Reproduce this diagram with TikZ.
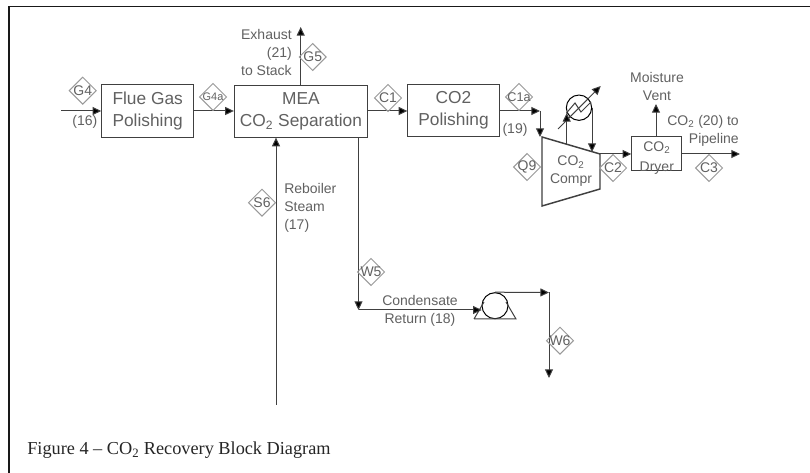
\documentclass[tikz,border=0pt]{standalone}
\usepackage{fontspec}
\setmainfont{Liberation Serif}
\newfontfamily\diagfont{Liberation Sans}
\usetikzlibrary{arrows.meta,shapes.geometric}
\newcommand{\tagtxt}[1]{\makebox[0pt][c]{#1}}
\tikzset{
  x=0.75pt,y=-0.75pt,
  ln/.style={draw=black!75,line width=0.75pt},
  arr/.style={ln,-{Triangle[length=6.5pt,width=6pt,fill=black]}},
  blockbox/.style={draw=black!75,line width=0.75pt,inner sep=0pt,align=center,font=\diagfont\fontsize{13}{16.5}\selectfont,text=black!62},
  tag/.style={diamond,draw=black!40,line width=0.75pt,minimum width=20.5pt,minimum height=20.5pt,inner sep=0pt,font=\diagfont\fontsize{10.5}{11}\selectfont,text=black!62},
  lbl/.style={inner sep=0pt,align=center,font=\diagfont\fontsize{10.5}{13.5}\selectfont,text=black!62},
}
\begin{document}
\begin{tikzpicture}
\useasboundingbox (0,0) rectangle (810,473);
\fill[white] (0,0) rectangle (810,473);
\draw[line width=1.3pt,black!90] (9,473) -- (9,6.5) -- (810,6.5);
% blocks
\node[blockbox,minimum width=69pt,minimum height=39.5pt] (flue) at (147.7,110.7) {Flue Gas\\Polishing};
\node[blockbox,minimum width=100pt,minimum height=38.5pt] (mea) at (301,111.5) {MEA\\CO\textsubscript{2} Separation};
\node[blockbox,minimum width=68.5pt,minimum height=39.5pt] (pol) at (453.5,110.5) {CO2\\Polishing};
\node[blockbox,minimum width=37.5pt,minimum height=25.5pt] (dryer) at (656.8,154) {};
\node[lbl,font=\diagfont\fontsize{10.5}{14.5}\selectfont] (dryert) at (656.8,158) {CO\textsubscript{2}\\Dryer};
% compressor
\coordinate (c1) at (542,137);
\coordinate (c2) at (600,154);
\coordinate (c3) at (600,189);
\coordinate (c4) at (542,206);
\draw[line width=1.1pt,black!75] (c1) -- (c2) -- (c3) -- (c4) -- cycle;
\node[lbl] (comp) at (571,171.5) {CO\textsubscript{2}\\Compr};
% pump
\node[circle,draw=black,line width=0.75pt,minimum size=19.5pt,inner sep=0pt] (pump) at (495,305.7) {};
\coordinate (pL) at (474,319);
\coordinate (pR) at (516,319);
\draw[ln] (pL) -- (pR) -- (506,302) (pL) -- (484,302);
% exchanger
\node[circle,draw=black,line width=0.75pt,minimum size=19pt,inner sep=0pt] (hx) at (579,107.7) {};
\coordinate (hxa) at (558,129);
\coordinate (hxb) at (600.7,86);
\draw[arr] (hxa) -- (hxb);
\draw[ln] (566.5,113) -- (575,103) -- (581,112) -- (591,102);
\coordinate (hxin) at (566.7,144);
\coordinate (hxout) at (592,152);
\draw[arr] (hxin) -- (566.7,113);
\draw[arr] (592,107.7) -- (hxout);
% streams
\coordinate (s16) at (61,111);
\draw[arr] (s16) -- (flue.west |- s16);
\draw[arr] (flue.east |- s16) -- (mea.west |- s16);
\draw[arr] (mea.east |- s16) -- (pol.west |- s16);
\coordinate (stack) at (300.7,27);
\draw[arr] (mea.north -| stack) -- (stack);
\coordinate (steam) at (276,405);
\draw[arr] (steam) -- (mea.south -| steam);
\coordinate (cond) at (358.5,310);
\draw[arr] (mea.south -| cond) -- (cond);
\draw[arr] (cond) -- (481.7,310);
\coordinate (pout) at (549,292.5);
\draw[arr] (pump.north) -- (pout);
\coordinate (ret) at (549,378);
\draw[arr] (pout) -- (ret);
\coordinate (pc) at (540,111);
\draw[arr] (pol.east |- pc) -- (pc);
\draw[arr] (pc) -- (pc |- c1);
\draw[arr] (c2) -- (dryer.west |- c2);
\coordinate (vent) at (656,104);
\draw[arr] (dryer.north -| vent) -- (vent);
\coordinate (pipe) at (740,154);
\draw[arr] (dryer.east |- pipe) -- (pipe);
% tags
\node[tag] (G4) at (82.7,90.7) {\tagtxt{G4}};
\node[tag,font=\diagfont\fontsize{8.2}{9}\selectfont] (G4a) at (213,97) {\tagtxt{G4a}};
\node[tag] (G5) at (312.7,57) {\tagtxt{G5}};
\node[tag] (C1) at (388,98) {\tagtxt{C1}};
\node[tag,font=\diagfont\fontsize{9.5}{10}\selectfont] (C1a) at (519,97) {\tagtxt{C1a}};
\node[tag] (S6) at (262,202.7) {\tagtxt{S6}};
\node[tag] (W5) at (371,272) {\tagtxt{W5}};
\node[tag] (W6) at (560,340.7) {\tagtxt{W6}};
\node[tag] (Q9) at (527,167) {\tagtxt{Q9}};
\node[tag] (C2) at (613,168) {\tagtxt{C2}};
\node[tag] (C3) at (709,168) {\tagtxt{C3}};
% labels
\node[lbl,anchor=east] (l16) at (97.5,122) {(16)};
\node[lbl,anchor=east,align=right] (lex) at (292,53) {Exhaust\\(21)\\to Stack};
\node[lbl,anchor=west,align=left] (lst) at (284,208) {Reboiler\\Steam\\(17)};
\node[lbl] (lco) at (420,311) {Condensate\\Return (18)};
\node[lbl] (l19) at (515,130) {(19)};
\node[lbl] (lmo) at (657,87) {Moisture\\Vent};
\node[lbl,anchor=east,align=right] (lpi) at (739,131) {CO\textsubscript{2} (20) to\\Pipeline};
\node[inner sep=0pt,anchor=base west,font=\fontsize{13.7}{15}\selectfont,text=black!85] (cap) at (27,455) {Figure 4 -- CO\textsubscript{2} Recovery Block Diagram};
\end{tikzpicture}
\end{document}
